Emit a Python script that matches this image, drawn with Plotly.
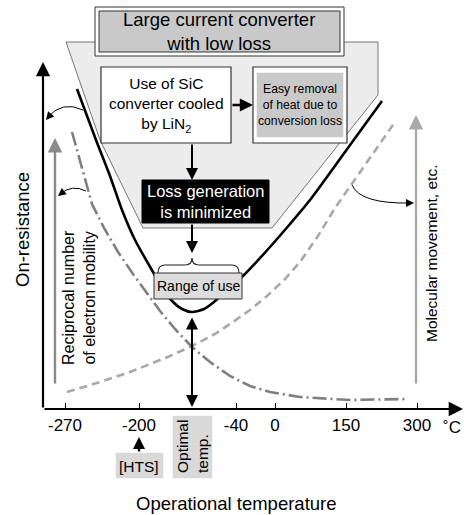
import plotly.graph_objects as go

W, H = 464, 515
X0, Y0 = 43, 409  # axis origin (pixels)

# ---------------- data (axis units: x = temperature-scale position, y = relative magnitude) ----
tick_pos = [22, 96, 193, 232, 303, 374]
tick_labels = ["-270", "-200", "-40", "0", "150", "300"]
optimal_pos = 149
hts_pos = 96

on_res_x = [34, 53, 67, 79, 92, 110, 120, 129, 139, 149, 161, 171, 183, 202, 227, 247, 267, 302, 339]
on_res_y = [320, 269, 233, 199, 169, 137, 120, 108, 100, 97, 100, 107, 118, 135, 162, 185, 209, 257, 308]

mob_x = [29, 39, 49, 61, 75, 90, 102, 117, 132, 149, 167, 187, 207, 227, 257, 307, 364]
mob_y = [277, 241, 205, 181, 157, 135, 118, 98, 80, 62, 47, 33, 23, 17, 12, 9, 10]

mol_x = [24, 57, 87, 107, 127, 149, 172, 190, 207, 224, 242, 257, 275, 292, 309, 329, 352]
mol_y = [17, 27, 37, 45, 53, 63, 75, 87, 99, 113, 130, 147, 173, 201, 225, 254, 287]

FONT = "Liberation Sans, Arial, Helvetica, sans-serif"


def P(px, py):
    """pixel position -> axis units (layout helper)"""
    return px - X0, Y0 - py


fig = go.Figure()

shapes = []
annotations = []


def rect(px0, py0, px1, py1, fill, line="#333333", lw=1.0, layer="above"):
    x0, y0 = P(px0, py0)
    x1, y1 = P(px1, py1)
    shapes.append(dict(type="rect", xref="x", yref="y", x0=x0, y0=y0, x1=x1, y1=y1,
                       fillcolor=fill, line=dict(color=line, width=lw), layer=layer))


def path(pts, fill=None, line="#333333", lw=1.0, layer="above", closed=False):
    d = "M " + " L ".join(f"{P(a, b)[0]},{P(a, b)[1]}" for a, b in pts)
    if closed:
        d += " Z"
    s = dict(type="path", xref="x", yref="y", path=d, line=dict(color=line, width=lw), layer=layer)
    if fill:
        s["fillcolor"] = fill
    shapes.append(s)


def qcurve(p0, c, p1, color="black", lw=1.0):
    a = P(*p0); b = P(*c); e = P(*p1)
    shapes.append(dict(type="path", xref="x", yref="y",
                       path=f"M {a[0]},{a[1]} Q {b[0]},{b[1]} {e[0]},{e[1]}",
                       line=dict(color=color, width=lw), layer="above"))


def arrow(p0, p1, color="black", width=2.0, size=1.2, head=2, both=False):
    x0, y0 = P(*p0)
    x1, y1 = P(*p1)
    a = dict(x=x1, y=y1, ax=x0, ay=y0, xref="x", yref="y", axref="x", ayref="y",
             showarrow=True, arrowhead=head, arrowsize=size, arrowwidth=width,
             arrowcolor=color, text="", standoff=0, startstandoff=0)
    if both:
        a["arrowside"] = "end+start"
        a["startarrowhead"] = head
        a["startarrowsize"] = size
    annotations.append(a)


def head(p, dx, dy, color="black", width=1.0, size=1.6):
    x, y = P(*p)
    annotations.append(dict(x=x, y=y, ax=dx, ay=dy, xref="x", yref="y",
                            showarrow=True, arrowhead=2, arrowsize=size, arrowwidth=width,
                            arrowcolor=color, text="", standoff=0))


def text(px, py, s, size=15, color="black", family=FONT, angle=0, align="center"):
    x, y = P(px, py)
    annotations.append(dict(x=x, y=y, xref="x", yref="y", text=s, showarrow=False,
                            font=dict(size=size, color=color, family=family),
                            textangle=angle, align=align, xanchor="center", yanchor="middle"))


# ---------------- funnel background ----------------
path([(66, 42), (378, 42), (378, 95), (272, 228), (143, 228), (100, 140)],
     fill="#ececec", line="#555555", lw=0.8, layer="below", closed=True)

# ---------------- curves ----------------
fig.add_trace(go.Scatter(x=mol_x, y=mol_y, mode="lines", name="Molecular movement",
                         line=dict(color="#a8a8a8", width=2.6, dash="8px,5px"),
                         hoverinfo="skip"))
fig.add_trace(go.Scatter(x=mob_x, y=mob_y, mode="lines", name="Reciprocal of mobility",
                         line=dict(color="#7f7f7f", width=2.6, dash="14px,4px,2px,4px"),
                         hoverinfo="skip"))
fig.add_trace(go.Scatter(x=on_res_x, y=on_res_y, mode="lines", name="On-resistance",
                         line=dict(color="black", width=2.6, shape="spline", smoothing=0.6),
                         hoverinfo="skip"))

# ---------------- boxes ----------------
rect(95, 7, 344, 56, "white", lw=1.0)
rect(99, 11, 340, 52, "#c9c9c9", lw=1.0)
rect(101, 67, 231, 143, "white", lw=1.2)
rect(253, 67, 347, 143, "white", lw=1.2)
rect(257, 73, 343, 137, "#c9c9c9", line="#c9c9c9", lw=0.5)
rect(142, 180, 269, 223, "black", line="black", lw=1)
rect(154, 273, 242, 299, "#dcdcdc", lw=1.0)
rect(116, 453, 163, 478, "#d9d9d9", line="#d9d9d9", lw=0.5)
rect(173, 416, 212, 478, "#d9d9d9", line="#d9d9d9", lw=0.5)

# curly brace over "Range of use"
shapes.append(dict(type="path", xref="x", yref="y", layer="above",
                   line=dict(color="#222222", width=1.2),
                   path=("M {} {} Q {} {} {} {} L {} {} Q {} {} {} {} Q {} {} {} {} L {} {} Q {} {} {} {}").format(
                       *P(158, 273), *P(158, 265), *P(165, 265), *P(185, 265),
                       *P(192, 265), *P(192, 258), *P(192, 265), *P(199, 265),
                       *P(232, 265), *P(239, 265), *P(239, 273))))

# ---------------- axes (arrows) ----------------
arrow((43, 409), (43, 62), width=2.2, size=1.3)
arrow((43, 409), (463, 409), width=2.2, size=1.3)

# gray vertical arrows
arrow((55, 385), (55, 138), color="#8a8a8a", width=2.4, size=1.2)
arrow((416, 385), (416, 115), color="#aaaaaa", width=2.4, size=1.2)

# flow arrows
arrow((231, 105), (253, 105), width=2.4, size=1.1)
arrow((192, 143), (192, 180), width=2.0, size=1.2)
arrow((192, 223), (192, 253), width=2.0, size=1.2)
arrow((192, 316), (192, 407), width=2.0, size=1.2, both=True)
arrow((139, 453), (139, 437), width=2.4, size=1.0)

# curved pointer arrows
qcurve((83, 110), (62, 100), (47, 118))
head((46, 120), 5, -6)
qcurve((86, 191), (72, 184), (60, 194))
head((58, 196), 5, -4)
qcurve((352, 185), (360, 204), (411, 203))
head((414, 203), -7, 0)

# ---------------- texts ----------------
text(219, 31, "Large current converter<br>with low loss", size=18.5)
text(166, 105, "Use of SiC<br>converter cooled<br>by LiN<sub>2</sub>", size=15.5)
text(300, 105, "Easy removal<br>of heat due to<br>conversion loss", size=12.2)
text(205, 201, "Loss generation<br>is minimized", size=16.5, color="white")
text(198, 286, "Range of use", size=14)
text(22, 230, "On-resistance", size=18.5, angle=-90)
text(79, 298, "Reciprocal number<br>of electron mobility", size=16, angle=-90)
text(431, 254, "Molecular movement, etc.", size=15.5, angle=-90)
text(452, 427, "˚C", size=17)
text(139, 466, "[HTS]", size=15.5)
text(192, 447, "Optimal<br>temp.", size=15.5, angle=-90, align="left")
text(236, 503, "Operational temperature", size=18.5)

fig.update_layout(
    width=W, height=H,
    margin=dict(l=0, r=0, t=0, b=0, autoexpand=False),
    paper_bgcolor="white", plot_bgcolor="white",
    showlegend=False,
    font=dict(family=FONT, color="black"),
    xaxis=dict(range=[-X0, W - X0], domain=[0, 1], anchor="free", position=(H - Y0) / H,
               showline=False, ticks="inside", ticklen=6, tickwidth=1, tickcolor="black",
               tickvals=tick_pos, ticktext=tick_labels, tickfont=dict(size=17, color="black", family=FONT),
               ticklabelstandoff=4, showgrid=False, zeroline=False, fixedrange=True),
    yaxis=dict(range=[Y0 - H, Y0], visible=False, fixedrange=True),
    shapes=shapes,
    annotations=annotations,
)

fig.write_html("out.html", config={"displayModeBar": False},
               post_script="document.body.style.margin='0';document.body.style.padding='0';")
